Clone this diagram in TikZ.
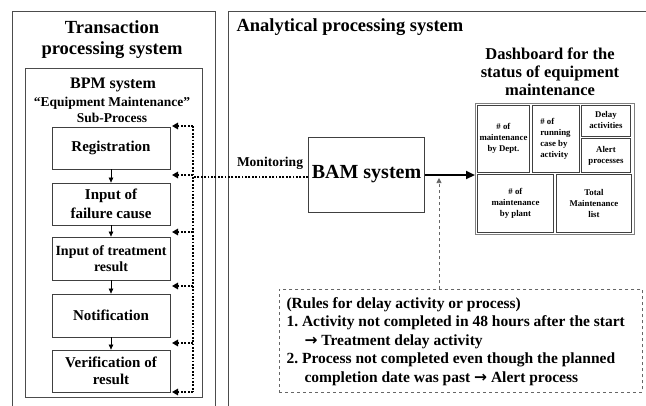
\documentclass[tikz,border=0pt]{standalone}
\usepackage{fontspec}
\setmainfont{Liberation Serif}
\newfontfamily\arrfont{DejaVu Sans}
\newcommand{\rarr}{{\arrfont\bfseries →}}
\usetikzlibrary{arrows.meta}
\begin{document}
\begin{tikzpicture}[x=1pt,y=-1pt,
  frame/.style={draw=black!70, line width=0.8pt, inner sep=0pt},
  proc/.style={draw=black!75, line width=0.8pt, minimum width=118pt, inner sep=0pt, align=center, font=\bfseries\fontsize{15}{19}\selectfont},
  cell/.style={draw=black!75, line width=0.9pt, inner sep=0pt, anchor=north west, align=center, font=\bfseries\fontsize{8.8}{11}\selectfont},
  flow/.style={line width=0.7pt, -{Triangle[length=5pt,width=4.5pt]}},
  dotarrow/.style={line width=1.8pt, dash pattern=on 1.8pt off 1.6pt, -{Triangle[length=6pt,width=6.5pt]}},
  dotline/.style={line width=1.8pt, dash pattern=on 1.8pt off 1.6pt}
]
\useasboundingbox (0,0) rectangle (646,405);
\clip (0,0) rectangle (646,405);
\fill[white] (0,0) rectangle (646,405);

% outer containers
\node[frame, minimum width=203pt, minimum height=410pt, anchor=north west] (tps) at (12,11) {};
\node[frame, minimum width=440pt, minimum height=410pt, anchor=north west] (aps) at (228,11) {};
\node[align=center, font=\bfseries\fontsize{18.5}{21}\selectfont] (tpst) at (112,40) {Transaction\\processing system};
\node[anchor=west, font=\bfseries\fontsize{18.5}{21}\selectfont] (apst) at (233,27) {Analytical processing system};

% BPM system
\node[frame, minimum width=177pt, minimum height=329pt, anchor=north west] (bpm) at (25,68) {};
\node[font=\bfseries\fontsize{16}{18}\selectfont] (bpmt) at (113,85) {BPM system};
\node[align=center, font=\bfseries\fontsize{13.5}{16}\selectfont] (bpms) at (112,110) {“Equipment Maintenance”\\Sub-Process};

\node[proc, minimum height=42pt] (reg) at (111,148) {Registration};
\node[proc, minimum height=42pt] (fail) at (111,204) {Input of\\failure cause};
\node[proc, minimum height=43pt, font=\bfseries\fontsize{14}{16}\selectfont] (treat) at (111,258.5) {Input of treatment\\result};
\node[proc, minimum height=43pt] (noti) at (111,315.5) {Notification};
\node[proc, minimum height=42pt, font=\bfseries\fontsize{15}{17}\selectfont] (veri) at (111,371) {Verification of\\result};

\draw[flow] (reg) -- (fail);
\draw[flow] (fail) -- (treat);
\draw[flow] (treat) -- (noti);
\draw[flow] (noti) -- (veri);

% dotted feedback
\coordinate (vtop) at (193,126);
\coordinate (vbot) at (193,392);
\draw[dotline] (vtop) -- (vbot);
\foreach \yy/\nm in {126/a1,175/a2,232/a3,286/a4,343/a5,392/a6}{
  \coordinate (\nm) at (193,\yy);
  \draw[dotarrow] (\nm) -- ++(-21,0);
}

% BAM
\node[draw=black!75, line width=0.8pt, minimum width=113pt, minimum height=75pt, font=\bfseries\fontsize{20}{22}\selectfont] (bam) at (366.5,174.5) {BAM system};
\draw[dotline] (bam.west |- 0,177) -- (vtop |- 0,177);
\node[font=\bfseries\fontsize{13.5}{15}\selectfont] (mon) at (270,163) {Monitoring};

% dashboard
\node[align=center, font=\bfseries\fontsize{16.5}{18}\selectfont] (dasht) at (550,72) {Dashboard for the\\status of equipment\\maintenance};
\node[draw=black!50, line width=1.2pt, minimum width=159pt, minimum height=131pt, anchor=north west, inner sep=0pt] (dash) at (475,103) {};
\node[cell, minimum width=52pt, minimum height=67pt] (c1) at (477,104.5) {\# of\\maintenance\\by Dept.};
\node[cell, minimum width=47pt, minimum height=67pt, align=left] (c2) at (531.5,104.5) {\# of\\running\\case by\\activity};
\node[cell, minimum width=49pt, minimum height=31pt] (c3) at (581,104.5) {Delay\\activities};
\node[cell, minimum width=49pt, minimum height=34pt] (c4) at (581,138) {Alert\\processes};
\node[cell, minimum width=76pt, minimum height=58pt] (c5) at (477,174) {\# of\\maintenance\\by plant};
\node[cell, minimum width=75pt, minimum height=58pt] (c6) at (556,174) {Total\\Maintenance\\list};

\draw[line width=2.2pt, -{Triangle[length=9pt,width=8pt]}] (bam.east |- 0,175) -- (dash.west |- 0,175);

% rules
\node[draw=black!60, dashed, line width=0.7pt, minimum width=363pt, minimum height=103pt, anchor=north west, inner sep=0pt] (rules) at (279,289) {};
\node[anchor=north west, align=left, font=\bfseries\fontsize{15.5}{18.5}\selectfont] (rulest) at (283,294) {(Rules for delay activity or process)\\
1.\ Activity not completed in 48 hours after the start\\
\hspace*{18pt}\rarr{} Treatment delay activity\\
2.\ Process not completed even though the planned\\
\hspace*{18pt}completion date was past \rarr{} Alert process};
\coordinate (tee) at (439,178);
\draw[black!60, dashed, line width=0.7pt, -{Triangle[length=5pt,width=5pt]}] (rules.north -| tee) -- (tee);
\end{tikzpicture}
\end{document}
